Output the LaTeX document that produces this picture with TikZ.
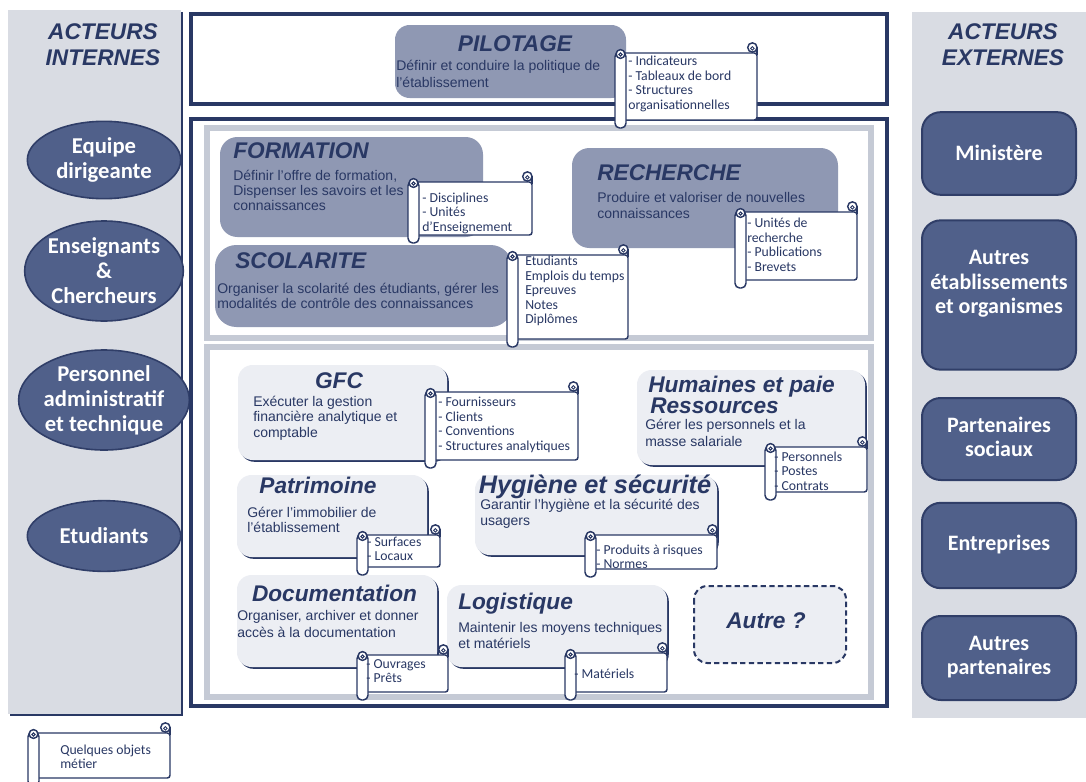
\documentclass[tikz,border=0pt]{standalone}
\usepackage{fontspec}
\setmainfont{Liberation Sans}
\newfontfamily\calib{Carlito}
\usetikzlibrary{shapes.geometric}

\definecolor{navy}{RGB}{41,56,100}
\definecolor{actorfill}{RGB}{80,96,138}
\definecolor{actorline}{RGB}{48,62,104}
\definecolor{panelgray}{RGB}{217,220,227}
\definecolor{bandgray}{RGB}{197,202,213}
\definecolor{midblue}{RGB}{143,152,179}
\definecolor{paleblue}{RGB}{236,238,243}

\newcommand{\bodyfont}[1]{\fontsize{10.5}{#1}\selectfont}

\tikzset{
  paneltitle/.style={font=\fontsize{17}{19.5}\selectfont\bfseries\itshape, text=navy, align=center, inner sep=0pt},
  boxtitle/.style={font=\fontsize{17}{19.5}\selectfont\bfseries\itshape, text=navy, inner sep=0pt, text height=12.2pt, text depth=0pt},
  bodytext/.style={text=navy, align=left, inner sep=0pt, anchor=west},
  scrolltext/.style={font=\calib\fontsize{10.3}{10.9}\selectfont, text=navy, align=left, inner sep=0pt, anchor=west},
  scrollline/.style={draw=navy, fill=white, line width=1.1pt},
  actor/.style={ellipse, fill=actorfill, draw=actorline, line width=1.2pt, text=white,
    font=\calib\bfseries\fontsize{17}{18.75}\selectfont, align=center, inner sep=0pt, minimum width=115pt},
  extbox/.style={rectangle, rounded corners=14pt, fill=actorfill, draw=actorline, line width=1.5pt,
    inner sep=0pt, minimum width=115.5pt},
  exttext/.style={text=white, font=\calib\bfseries\fontsize{16.5}{18.4}\selectfont, align=center, inner sep=0pt},
  frame/.style={draw=navy, line width=3pt},
  subpanel/.style={draw=bandgray, line width=4.5pt},
}

% a rolled parchment holding a short list:
% name, tube left, body top, right edge, tube bottom, text x, text y, text
\newcommand{\objscroll}[8]{%
  \filldraw[scrollline, rounded corners=2pt] (#2+6,#3) rectangle (#4,#5-8);
  \draw[scrollline] (#4,#3+2) -- (#4,#3-5);
  \filldraw[scrollline] (#4-4.6,#3-5.5) circle (3.5pt);
  \draw[scrollline, line width=0.7pt] (#4-4.6,#3-4.6) circle (1.3pt);
  \filldraw[scrollline, rounded corners=3.5pt] (#2,#3-1) rectangle (#2+11,#5);
  \filldraw[scrollline] (#2+5.5,#3+1) circle (3.3pt);
  \draw[scrollline, line width=0.7pt] (#2+5.5,#3+1.5) circle (1.2pt);
  \node[scrolltext] (#1) at (#6,#7) {#8};
}

% pale box with a thin dark shadow on its lower right edges
\newcommand{\lightbox}[4]{%
  \fill[navy, rounded corners=11pt] (#1+1.8,#2+1.8) rectangle (#3+1.8,#4+1.8);
  \fill[paleblue, rounded corners=11pt] (#1,#2) rectangle (#3,#4);
}

\begin{document}
\begin{tikzpicture}[x=0.75pt,y=-0.75pt]
\useasboundingbox (0,0) rectangle (1086,782);

% side panels
\fill[navy] (10,12) rectangle (183,716);
\fill[panelgray] (8,10) rectangle (181,714);
\fill[panelgray] (912,12) rectangle (1086,718);
\node[paneltitle] (intTitle) at (103,45) {ACTEURS\\INTERNES};
\node[paneltitle] (extTitle) at (1003,45) {ACTEURS\\EXTERNES};

% internal actors
\node[actor, minimum height=58pt] (eqdir) at (104,160) {Equipe\\dirigeante};
\node[actor, minimum height=75pt] (ensch) at (104,271) {Enseignants\\\&\\Chercheurs};
\node[actor, minimum height=75pt] (persat) at (104,400) {Personnel\\administratif\\et technique};
\node[actor, minimum height=53pt] (etud) at (104,536) {Etudiants};

% external actors
\node[extbox, minimum height=62pt] (minis) at (999,153.5) {};
\node[exttext] (minisText) at (999,153) {Ministère};
\node[extbox, minimum height=112pt] (autetab) at (999,295) {};
\node[exttext] (autetabText) at (999,284) {Autres\\établissements\\et organismes};
\node[extbox, minimum height=61.5pt] (partsoc) at (999,439) {};
\node[exttext] (partsocText) at (999,437) {Partenaires\\sociaux};
\node[extbox, minimum height=64pt] (entr) at (999,545.5) {};
\node[exttext] (entrText) at (999,545) {Entreprises};
\node[extbox, minimum height=63pt] (autpart) at (999,658) {};
\node[exttext] (autpartText) at (999,657) {Autres\\partenaires};

% frames
\draw[frame, fill=white] (191,14) rectangle (887,104);
\draw[frame, fill=white] (191,119) rectangle (887,706);
\draw[subpanel] (207,128) rectangle (871,338);
\draw[subpanel] (207,347) rectangle (871,697);

% steering
\fill[midblue, rounded corners=11pt] (395,25) rectangle (626,98);
\node[boxtitle] (pilotTitle) at (515,43) {PILOTAGE};
\node[bodytext, font=\bodyfont{12.75}] (pilotText) at (396,73.5) {Définir et conduire la politique de\\l’établissement};

% core missions
\fill[midblue, rounded corners=13pt] (220,137) rectangle (483,237);
\node[boxtitle, anchor=west] (formTitle) at (233,150) {FORMATION};
\node[bodytext, font=\bodyfont{11.25}] (formText) at (233,190) {Définir l’offre de formation,\\Dispenser les savoirs et les\\connaissances};

\fill[midblue, rounded corners=13pt] (572,148) rectangle (838,248);
\node[boxtitle, anchor=west] (rechTitle) at (597,172) {RECHERCHE};
\node[bodytext, font=\bodyfont{12}] (rechText) at (597,205) {Produire et valoriser de nouvelles\\connaissances};

\fill[midblue, rounded corners=16pt] (215,245) rectangle (512,327);
\node[boxtitle, anchor=west] (scolTitle) at (235,260) {SCOLARITE};
\node[bodytext, font=\bodyfont{10.8}] (scolText) at (217,296) {Organiser la scolarité des étudiants, gérer les\\modalités de contrôle des connaissances};

% support functions
\lightbox{238}{365}{447}{460}
\node[boxtitle] (gfcTitle) at (339,380) {GFC};
\node[bodytext, font=\bodyfont{11.6}] (gfcText) at (253,418) {Exécuter la gestion\\financière analytique et\\comptable};

\lightbox{637}{370}{865}{465}
\node[boxtitle, anchor=west] (rhTitleA) at (648,384) {Humaines et paie};
\node[boxtitle, anchor=west] (rhTitleB) at (650,405) {Ressources};
\node[bodytext, font=\bodyfont{12.75}] (rhText) at (645,433) {Gérer les personnels et la\\masse salariale};

\lightbox{237}{475}{427}{557}
\node[boxtitle] (patTitle) at (318,485) {Patrimoine};
\node[bodytext, font=\bodyfont{11.25}] (patText) at (247,519.5) {Gérer l’immobilier de\\l’établissement};

\lightbox{475}{475}{717}{555}
\node[boxtitle, font=\fontsize{19}{21}\selectfont\bfseries\itshape, text height=13.6pt] (hygTitle) at (595,484) {Hygiène et sécurité};
\node[bodytext, font=\bodyfont{12}] (hygText) at (480,514) {Garantir l’hygiène et la sécurité des\\usagers};

\lightbox{237}{575}{437}{667}
\node[boxtitle] (docTitle) at (334.5,593) {Documentation};
\node[bodytext, font=\bodyfont{12.75}] (docText) at (237,624) {Organiser, archiver et donner\\accès à la documentation};

\lightbox{447}{585}{667}{667}
\node[boxtitle, anchor=west] (logTitle) at (458,601) {Logistique};
\node[bodytext, font=\bodyfont{12}] (logText) at (458,635) {Maintenir les moyens techniques\\et matériels};

\draw[navy, line width=1.5pt, dash pattern=on 4pt off 2.5pt, fill=paleblue, rounded corners=10pt] (694,586) rectangle (846,663);
\node[boxtitle] (autreTitle) at (766,620) {Autre ?};

% business objects
\objscroll{pilotObj}{615}{53}{757}{128}{628}{84}{- Indicateurs\\- Tableaux de bord\\- Structures\\organisationnelles}
\objscroll{formObj}{408}{182}{532}{243}{422}{213}{- Disciplines\\- Unités\\d’Enseignement}
\objscroll{rechObj}{735}{212}{857}{288}{747}{245}{- Unités de\\recherche\\- Publications\\- Brevets}
\objscroll{scolObj}{507}{255}{628}{347}{525}{291}{Etudiants\\Emplois du temps\\Epreuves\\Notes\\Diplômes}
\objscroll{gfcObj}{425}{392}{578}{468}{438}{425}{- Fournisseurs\\- Clients\\- Conventions\\- Structures analytiques}
\objscroll{rhObj}{765}{447}{867}{500}{774}{471}{- Personnels\\- Postes\\- Contrats}
\objscroll{patObj}{357}{535}{440}{575}{367}{549}{- Surfaces\\- Locaux}
\objscroll{hygObj}{585}{535}{717}{577}{596}{557}{- Produits à risques\\- Normes}
\objscroll{docObj}{357}{655}{448}{700}{366}{671}{- Ouvrages\\- Prêts}
\objscroll{logObj}{565}{653}{667}{700}{574}{674}{- Matériels}

% legend
\objscroll{legendObj}{28}{733}{170}{786}{60}{757}{Quelques objets\\métier}
\end{tikzpicture}
\end{document}
